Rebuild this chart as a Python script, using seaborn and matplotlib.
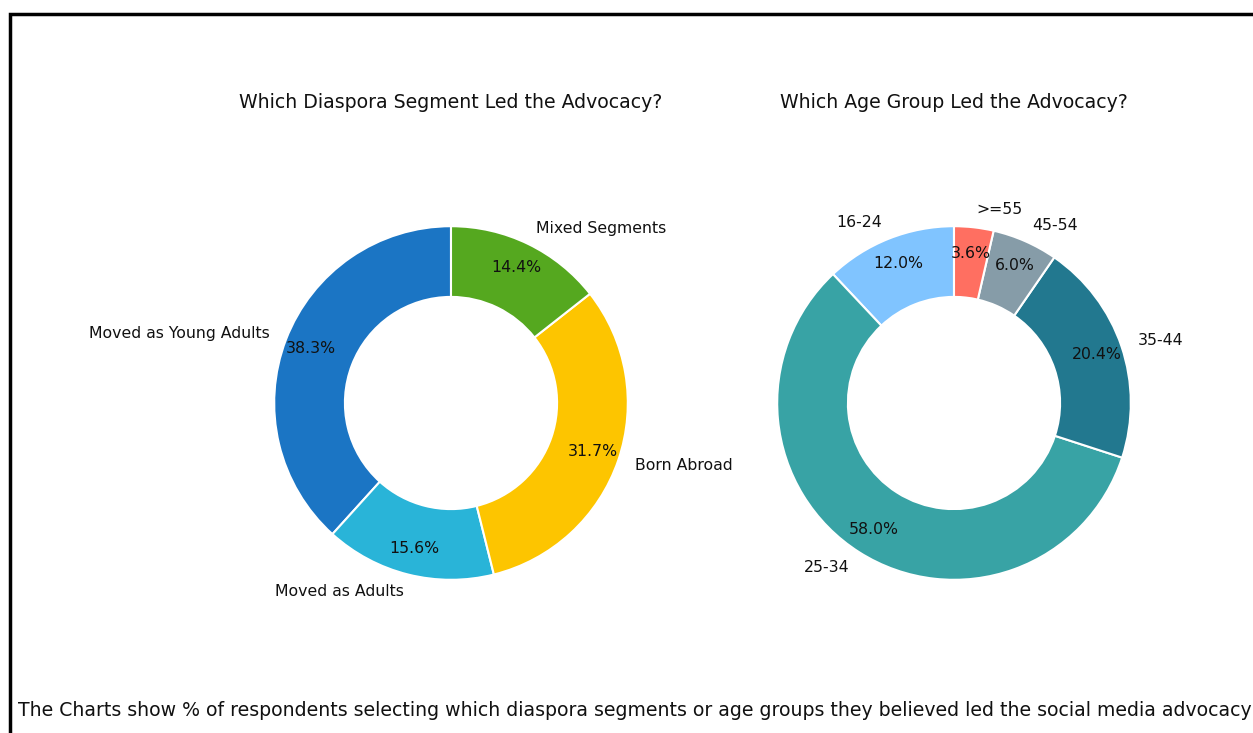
import matplotlib
matplotlib.use("Agg")
import matplotlib.pyplot as plt
import matplotlib.patches as mpatches
import seaborn as sns

sns.set_style("white")
plt.rcParams['font.family'] = ['DejaVu Sans']

seg_labels = ["Moved as Young Adults", "Moved as Adults", "Born Abroad", "Mixed Segments"]
seg_values = [38.3, 15.6, 31.7, 14.4]
seg_colors = ["#1B75C4", "#29B4D8", "#FDC500", "#55A81F"]

age_labels = ["16-24", "25-34", "35-44", "45-54", ">=55"]
age_values = [12.0, 58.0, 20.4, 6.0, 3.6]
age_colors = ["#80C4FF", "#38A3A5", "#22788F", "#869CA8", "#FF6F61"]

title_left = "Which Diaspora Segment Led the Advocacy?"
title_right = "Which Age Group Led the Advocacy?"
caption = ("The Charts show % of respondents selecting which diaspora segments or age groups "
           "they believed led the social media advocacy")

W, H = 1253, 733
fig = plt.figure(figsize=(W / 100, H / 100), dpi=100)

side = 442
def axes_at(cx, cy):
    return fig.add_axes([(cx - side / 2) / W, 1 - (cy + side / 2) / H, side / W, side / H])

ax1 = axes_at(451, 403)
ax2 = axes_at(954, 403)

for ax, vals, labs, cols in [(ax1, seg_values, seg_labels, seg_colors),
                             (ax2, age_values, age_labels, age_colors)]:
    ax.pie(vals, labels=labs, colors=cols, autopct="%1.1f%%", startangle=90,
           pctdistance=0.85, labeldistance=1.1,
           wedgeprops=dict(width=0.4, edgecolor="white", linewidth=1.5),
           textprops=dict(fontsize=11.3, color="#111111"))
    ax.set_aspect("equal")

fig.text(451 / W, 1 - 103 / H, title_left, ha="center", va="center", fontsize=13.6, color="#111111")
fig.text(954 / W, 1 - 103 / H, title_right, ha="center", va="center", fontsize=13.6, color="#111111")
fig.text(18 / W, 1 - 711 / H, caption, ha="left", va="center", fontsize=13.55, color="#111111")

border = mpatches.Rectangle((10 / W, -0.05), 1.2, (H - 14) / H + 0.05,
                            transform=fig.transFigure, fill=False,
                            edgecolor="black", linewidth=2.5, clip_on=False)
fig.patches.append(border)

fig.savefig("out.png", dpi=100)
